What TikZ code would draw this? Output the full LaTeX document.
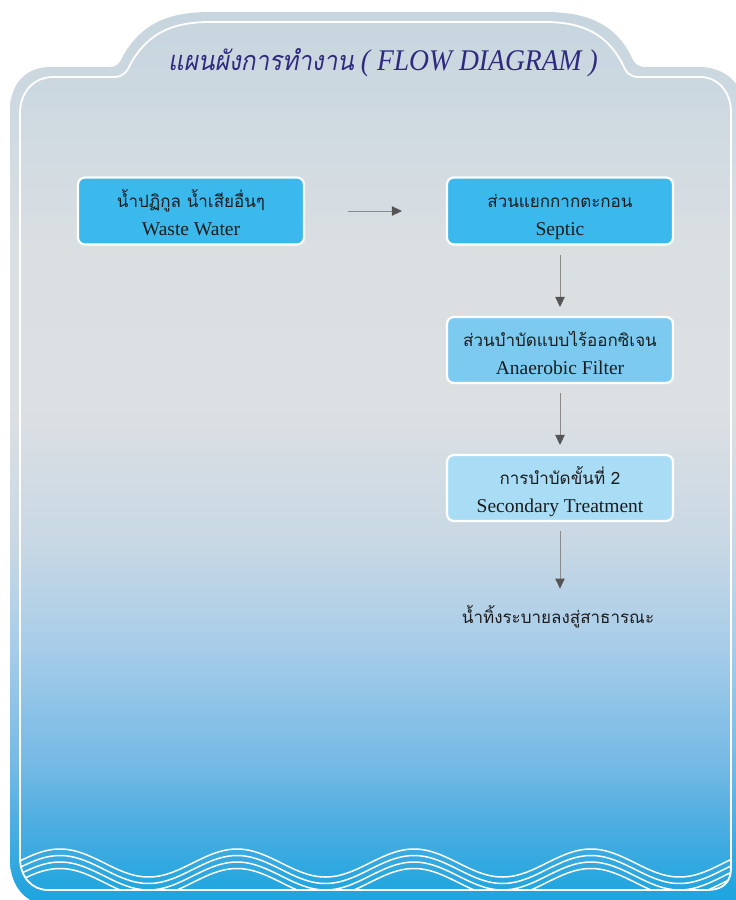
\documentclass[tikz,border=0pt]{standalone}
\usepackage{fontspec}
\setmainfont{Liberation Serif}
\newfontfamily\thaifont[Script=Thai]{Loma}
\newfontfamily\thaititlefont[Script=Thai,FakeSlant=0.18,FakeStretch=0.9]{Loma}
\newfontfamily\latinboxfont{Liberation Serif}
\newfontfamily\latintitlefont[FakeStretch=0.92]{Liberation Serif}
\usetikzlibrary{arrows.meta}
\definecolor{w1}{HTML}{1AA3DE}
\definecolor{w1b}{HTML}{24A6DF}
\definecolor{w2}{HTML}{50AEE1}
\definecolor{w3}{HTML}{74B9E5}
\definecolor{w4}{HTML}{A8CDE9}
\definecolor{w5}{HTML}{C8D8E4}
\definecolor{w6}{HTML}{DDE0E3}
\definecolor{w7}{HTML}{DADFE2}
\definecolor{w8}{HTML}{CDD9E1}
\definecolor{w9}{HTML}{C7D5DE}
\definecolor{boxA}{HTML}{3BB8EC}
\definecolor{boxB}{HTML}{7DCAF0}
\definecolor{boxC}{HTML}{A9DCF5}
\definecolor{txt}{HTML}{1C1C1C}
\definecolor{titlec}{HTML}{2E2A7E}
\definecolor{arrline}{HTML}{8A8A8A}
\definecolor{arrhead}{HTML}{555555}
\pgfdeclareverticalshading{panelshade}{100bp}{%
 color(0bp)=(w1); color(25bp)=(w1); color(26.1bp)=(w1b); color(29.8bp)=(w2);
 color(32.8bp)=(w3); color(39.6bp)=(w4); color(45.2bp)=(w5); color(53.2bp)=(w6);
 color(61.6bp)=(w7); color(70bp)=(w8); color(75bp)=(w9); color(100bp)=(w9)}
\newcommand\topstrut{\rule{0pt}{26pt}}
\newcommand\botstrut{\rule[-6pt]{0pt}{6pt}}
\begin{document}
\begin{tikzpicture}[x=1pt,y=-1pt,
  box/.style={draw=white, line width=2.2pt, rounded corners=7pt,
    minimum width=226pt, minimum height=67pt, inner sep=0pt,
    align=center, text=txt, font=\fontsize{17}{28}\selectfont},
  arr/.style={draw=arrline, line width=0.9pt,
    -{Triangle[length=10pt,width=9.5pt,color=arrhead]}},
  wave/.style={draw=white, line width=1.5pt}
]
\fill[white] (0,0) rectangle (736,900);
\useasboundingbox (0,0) rectangle (736,900);
% outer panel
\shade[shading=panelshade]
  (10,860) -- (10,110) .. controls (10,85) and (25,67) .. (50,67)
  -- (110,67) .. controls (117,67) and (120,63) .. (123,56)
  .. controls (140,26) and (165,12) .. (210,12)
  -- (545,12) .. controls (590,12) and (616,26) .. (631,56)
  .. controls (634,63) and (637,67) .. (646,67)
  -- (700,67) .. controls (725,67) and (745,85) .. (745,110)
  -- (745,905) -- (50,905) .. controls (25,905) and (10,885) .. (10,860) -- cycle;
% waves clipped to inner region
\begin{scope}
\clip (20,858) -- (20,113) .. controls (20,93) and (33,77) .. (53,77)
  -- (114,77) .. controls (123,77) and (127,72) .. (131,63)
  .. controls (147,35) and (170,22) .. (210,22)
  -- (545,22) .. controls (584,22) and (607,35) .. (622,63)
  .. controls (626,72) and (629,77) .. (639,77)
  -- (700,77) .. controls (718,77) and (731,92) .. (731,112)
  -- (731,868) .. controls (731,883) and (722,890) .. (707,890)
  -- (48,890) .. controls (32,890) and (20,877) .. (20,858) -- cycle;
\foreach \o in {0,6.5,13,19.5}{
  \draw[wave] plot[domain=15:740, samples=160, smooth]
    (\x, {863 + \o - 14*cos(2.0339*(\x-60))});
}
\end{scope}
% inner white outline
\draw[white, line width=1.8pt]
  (20,858) -- (20,113) .. controls (20,93) and (33,77) .. (53,77)
  -- (114,77) .. controls (123,77) and (127,72) .. (131,63)
  .. controls (147,35) and (170,22) .. (210,22)
  -- (545,22) .. controls (584,22) and (607,35) .. (622,63)
  .. controls (626,72) and (629,77) .. (639,77)
  -- (700,77) .. controls (718,77) and (731,92) .. (731,112)
  -- (731,868) .. controls (731,883) and (722,890) .. (707,890)
  -- (48,890) .. controls (32,890) and (20,877) .. (20,858) -- cycle;
% title
\node[text=titlec, inner sep=0pt] (title) at (383,63)
  {{\thaititlefont\fontsize{27}{30}\selectfont แผนผังการทำงาน}{\latintitlefont\itshape\fontsize{30}{30}\selectfont\ ( FLOW DIAGRAM )}};
% boxes
\node[box, fill=boxA] (b1) at (191,211)
  {{\thaifont\topstrut น้ำปฏิกูล น้ำเสียอื่นๆ}\\{\latinboxfont\fontsize{19.5}{28}\selectfont Waste Water\botstrut}};
\node[box, fill=boxA] (b2) at (560,211)
  {{\thaifont\topstrut ส่วนแยกกากตะกอน}\\{\latinboxfont\fontsize{19.5}{28}\selectfont Septic\botstrut}};
\node[box, fill=boxB, minimum height=66pt] (b3) at (560,350)
  {{\thaifont\topstrut ส่วนบำบัดแบบไร้ออกซิเจน}\\{\latinboxfont\fontsize{19.5}{28}\selectfont Anaerobic Filter\botstrut}};
\node[box, fill=boxC, minimum height=66pt] (b4) at (560,488)
  {{\thaifont\topstrut การบำบัดขั้นที่ 2}\\{\latinboxfont\fontsize{19.5}{28}\selectfont Secondary Treatment\botstrut}};
\node[text=txt, inner sep=0pt, font=\thaifont\fontsize{17}{20}\selectfont] (out) at (558,617)
  {น้ำทิ้งระบายลงสู่สาธารณะ};
% arrows
\draw[arr, shorten <=43pt, shorten >=44pt] (b1.east) -- (b2.west);
\draw[arr, shorten <=9pt, shorten >=9pt] (b2.south) -- (b3.north);
\draw[arr, shorten <=9pt, shorten >=9pt] (b3.south) -- (b4.north);
\draw[arr, shorten <=9pt, shorten >=17pt] (b4.south) -- (b4.south |- out.north);
\end{tikzpicture}
\end{document}
